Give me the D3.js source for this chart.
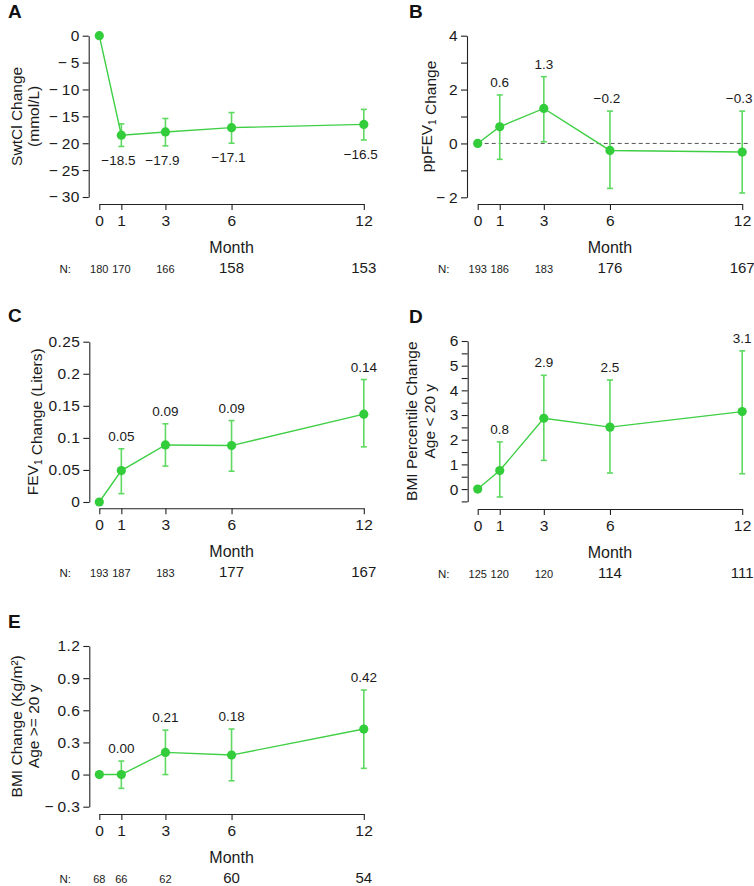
<!DOCTYPE html>
<html>
<head>
<meta charset="utf-8">
<script src="https://cdn.jsdelivr.net/npm/d3@7"></script>
<style>
  html, body { margin: 0; padding: 0; background: #fff; }
  svg { display: block; font-family: "Liberation Sans", Arial, Helvetica, sans-serif; }
</style>
</head>
<body>
<svg id="chart" width="754" height="886"></svg>
<script>
// ---- Data ----
const months = [0, 1, 3, 6, 12];

const swtclMean   = [0, -18.5, -17.9, -17.1, -16.5];
const swtclLow    = [0, -20.6, -20.5, -20.0, -19.4];
const swtclHigh   = [0, -16.4, -15.4, -14.3, -13.7];
const swtclLabels = ["", "−18.5", "−17.9", "−17.1", "−16.5"];
const swtclN      = ["180", "170", "166", "158", "153"];

const ppfevMean   = [0, 0.62, 1.30, -0.26, -0.32];
const ppfevLow    = [0, -0.59, 0.06, -1.67, -1.84];
const ppfevHigh   = [0, 1.80, 2.48, 1.20, 1.20];
const ppfevLabels = ["", "0.6", "1.3", "−0.2", "−0.3"];
const ppfevN      = ["193", "186", "183", "176", "167"];

const fevMean   = [0, 0.049, 0.089, 0.088, 0.137];
const fevLow    = [0, 0.013, 0.056, 0.048, 0.086];
const fevHigh   = [0, 0.083, 0.122, 0.127, 0.191];
const fevLabels = ["", "0.05", "0.09", "0.09", "0.14"];
const fevN      = ["193", "187", "183", "177", "167"];

const bmipMean   = [0, 0.75, 2.87, 2.51, 3.14];
const bmipLow    = [0, -0.32, 1.16, 0.65, 0.62];
const bmipHigh   = [0, 1.91, 4.61, 4.42, 5.60];
const bmipLabels = ["", "0.8", "2.9", "2.5", "3.1"];
const bmipN      = ["125", "120", "120", "114", "111"];

const bmiMean   = [0, 0.0, 0.207, 0.182, 0.425];
const bmiLow    = [0, -0.129, 0.0, -0.058, 0.058];
const bmiHigh   = [0, 0.126, 0.415, 0.425, 0.789];
const bmiLabels = ["", "0.00", "0.21", "0.18", "0.42"];
const bmiN      = ["68", "66", "62", "60", "54"];

const ticksA = [-30, -25, -20, -15, -10, -5, 0];
const ticksB = [-2, -1, 0, 1, 2, 3, 4];
const labeledB = [-2, 0, 2, 4];
const ticksC = [0, 0.05, 0.1, 0.15, 0.2, 0.25];
const ticksD = [-0.5, 0, 0.5, 1, 1.5, 2, 2.5, 3, 3.5, 4, 4.5, 5, 5.5, 6];
const labeledD = [0, 1, 2, 3, 4, 5, 6];
const ticksE = [-0.3, 0, 0.3, 0.6, 0.9, 1.2];

// ---- Styles ----
const POINT = "#33cc3a";
const LINE = "#3fcf45";
const ERR = "#5fd962";
const TXT = "#1a1a1a";

const svg = d3.select("#chart");

function fmtTick(v, labeled) {
  if (labeled && !labeled.some(l => Math.abs(l - v) < 1e-9)) return "";
  if (Math.abs(v) < 1e-9) return "0";
  const s = String(+v.toFixed(2));
  return s.replace("-", "−\u2009");
}

function panel(cfg) {
  const g = svg.append("g");
  const x = d3.scaleLinear().domain([0, 12]).range([cfg.x0, cfg.x0 + 264.5]);
  const y = d3.scaleLinear().domain(cfg.domain).range([cfg.yBottom, cfg.yTop]);

  // panel letter
  g.append("text").attr("x", cfg.letterX).attr("y", cfg.letterY)
    .attr("font-size", 19).attr("font-weight", "bold").attr("fill", "#111")
    .text(cfg.letter);

  // Y axis
  const yAxis = d3.axisLeft(y).tickValues(cfg.ticks).tickSize(6).tickSizeOuter(0).tickPadding(3)
    .tickFormat(v => fmtTick(v, cfg.labeled));
  const ya = g.append("g").attr("transform", `translate(${cfg.yAxisX},0)`).call(yAxis);
  ya.selectAll("path, line").attr("stroke", "#222").attr("stroke-width", 1.1);
  ya.selectAll("text").attr("font-size", 15.5).attr("fill", TXT).attr("letter-spacing", 0.4)
    .attr("font-family", "Liberation Sans, Arial, sans-serif");

  // X axis
  const xAxis = d3.axisBottom(x).tickValues(months).tickSize(6).tickSizeOuter(0).tickPadding(5)
    .tickFormat(d3.format("d"));
  const xa = g.append("g").attr("transform", `translate(0,${cfg.xAxisY})`).call(xAxis);
  xa.selectAll("path, line").attr("stroke", "#222").attr("stroke-width", 1.1);
  xa.selectAll("text").attr("font-size", 15.5).attr("fill", TXT).attr("letter-spacing", 0.4)
    .attr("font-family", "Liberation Sans, Arial, sans-serif");

  // Month label
  g.append("text").attr("x", (x(0) + x(12)) / 2).attr("y", cfg.xAxisY + 49)
    .attr("text-anchor", "middle").attr("font-size", 16).attr("fill", TXT).text("Month");

  // N row
  const nY = cfg.xAxisY + 69;
  g.append("text").attr("x", cfg.x0 - 34).attr("y", nY).attr("text-anchor", "middle")
    .attr("font-size", 11.5).attr("fill", TXT).text("N:");
  cfg.n.forEach((t, i) => {
    g.append("text").attr("x", x(months[i])).attr("y", nY).attr("text-anchor", "middle")
      .attr("font-size", i >= 3 ? 15 : 11).attr("fill", TXT).text(t);
  });

  // Y label
  const yl = g.append("g")
    .attr("transform", `translate(0,${(cfg.yTop + cfg.yBottom) / 2})`);
  cfg.ylab.forEach((line, i) => {
    const t = yl.append("text")
      .attr("transform", `translate(${cfg.ylabX[i]},0) rotate(-90)`)
      .attr("text-anchor", "middle").attr("dy", "0.35em")
      .attr("font-size", 15.5).attr("fill", TXT);
    line.forEach(part => {
      if (part.sub) {
        t.append("tspan").attr("font-size", 10).attr("dy", 4).text(part.t);
        t.append("tspan").attr("dy", -4).text("");
      } else {
        t.append("tspan").text(part.t);
      }
    });
  });

  // reference line
  if (cfg.refLine) {
    g.append("line").attr("x1", x(0)).attr("x2", x(12) + 8)
      .attr("y1", y(0)).attr("y2", y(0))
      .attr("stroke", "#555").attr("stroke-width", 1).attr("stroke-dasharray", "4,3");
  }

  const data = months.map((m, i) => ({ m, v: cfg.mean[i], lo: cfg.low[i], hi: cfg.high[i], lab: cfg.labels[i] }));

  // error bars
  data.filter(d => d.m !== 0).forEach(d => {
    const eg = g.append("g").attr("stroke", ERR).attr("stroke-width", 1.6);
    eg.append("line").attr("x1", x(d.m)).attr("x2", x(d.m)).attr("y1", y(d.lo)).attr("y2", y(d.hi));
    eg.append("line").attr("x1", x(d.m) - 3).attr("x2", x(d.m) + 3).attr("y1", y(d.lo)).attr("y2", y(d.lo));
    eg.append("line").attr("x1", x(d.m) - 3).attr("x2", x(d.m) + 3).attr("y1", y(d.hi)).attr("y2", y(d.hi));
  });

  // line
  g.append("path").datum(data)
    .attr("d", d3.line().x(d => x(d.m)).y(d => y(d.v)))
    .attr("fill", "none").attr("stroke", LINE).attr("stroke-width", 1.4);

  // points
  g.selectAll("circle.pt").data(data).enter().append("circle")
    .attr("cx", d => x(d.m)).attr("cy", d => y(d.v)).attr("r", 4.6)
    .attr("fill", POINT);

  // value labels
  data.filter(d => d.lab).forEach(d => {
    const ty = cfg.below ? y(d.lo) + 19 : y(d.hi) - 8;
    const neg = d.lab.startsWith("−");
    g.append("text").attr("x", x(d.m) - (neg ? 3 : 0)).attr("y", ty)
      .attr("text-anchor", "middle").attr("font-size", 13.5).attr("fill", TXT).text(d.lab);
  });
}

panel({
  letter: "A", letterX: 8, letterY: 18,
  x0: 99.3, yAxisX: 88.7, xAxisY: 204, yTop: 35.7, yBottom: 197,
  domain: [-30, 0], ticks: ticksA,
  mean: swtclMean, low: swtclLow, high: swtclHigh, labels: swtclLabels, n: swtclN,
  below: true,
  ylab: [[{ t: "SwtCl Change" }], [{ t: "(mmol/L)" }]], ylabX: [17, 34]
});

panel({
  letter: "B", letterX: 409, letterY: 18,
  x0: 477.7, yAxisX: 467, xAxisY: 204, yTop: 35.7, yBottom: 197.3,
  domain: [-2, 4], ticks: ticksB, labeled: labeledB,
  mean: ppfevMean, low: ppfevLow, high: ppfevHigh, labels: ppfevLabels, n: ppfevN,
  refLine: true,
  ylab: [[{ t: "ppFEV" }, { t: "1", sub: true }, { t: " Change" }]], ylabX: [427]
});

panel({
  letter: "C", letterX: 8, letterY: 322,
  x0: 99.3, yAxisX: 89.3, xAxisY: 508.3, yTop: 341.7, yBottom: 502,
  domain: [0, 0.25], ticks: ticksC,
  mean: fevMean, low: fevLow, high: fevHigh, labels: fevLabels, n: fevN,
  ylab: [[{ t: "FEV" }, { t: "1", sub: true }, { t: " Change (Liters)" }]], ylabX: [33]
});

panel({
  letter: "D", letterX: 409, letterY: 323,
  x0: 477.7, yAxisX: 467.7, xAxisY: 509, yTop: 341, yBottom: 501.4,
  domain: [-0.5, 6], ticks: ticksD, labeled: labeledD,
  mean: bmipMean, low: bmipLow, high: bmipHigh, labels: bmipLabels, n: bmipN,
  ylab: [[{ t: "BMI Percentile Change" }], [{ t: "Age < 20 y" }]], ylabX: [412, 430]
});

panel({
  letter: "E", letterX: 8, letterY: 628,
  x0: 99.3, yAxisX: 89.3, xAxisY: 814, yTop: 646, yBottom: 806.7,
  domain: [-0.3, 1.2], ticks: ticksE,
  mean: bmiMean, low: bmiLow, high: bmiHigh, labels: bmiLabels, n: bmiN,
  ylab: [[{ t: "BMI Change (Kg/m²)" }], [{ t: "Age >= 20 y" }]], ylabX: [17, 34]
});
</script>
</body>
</html>
